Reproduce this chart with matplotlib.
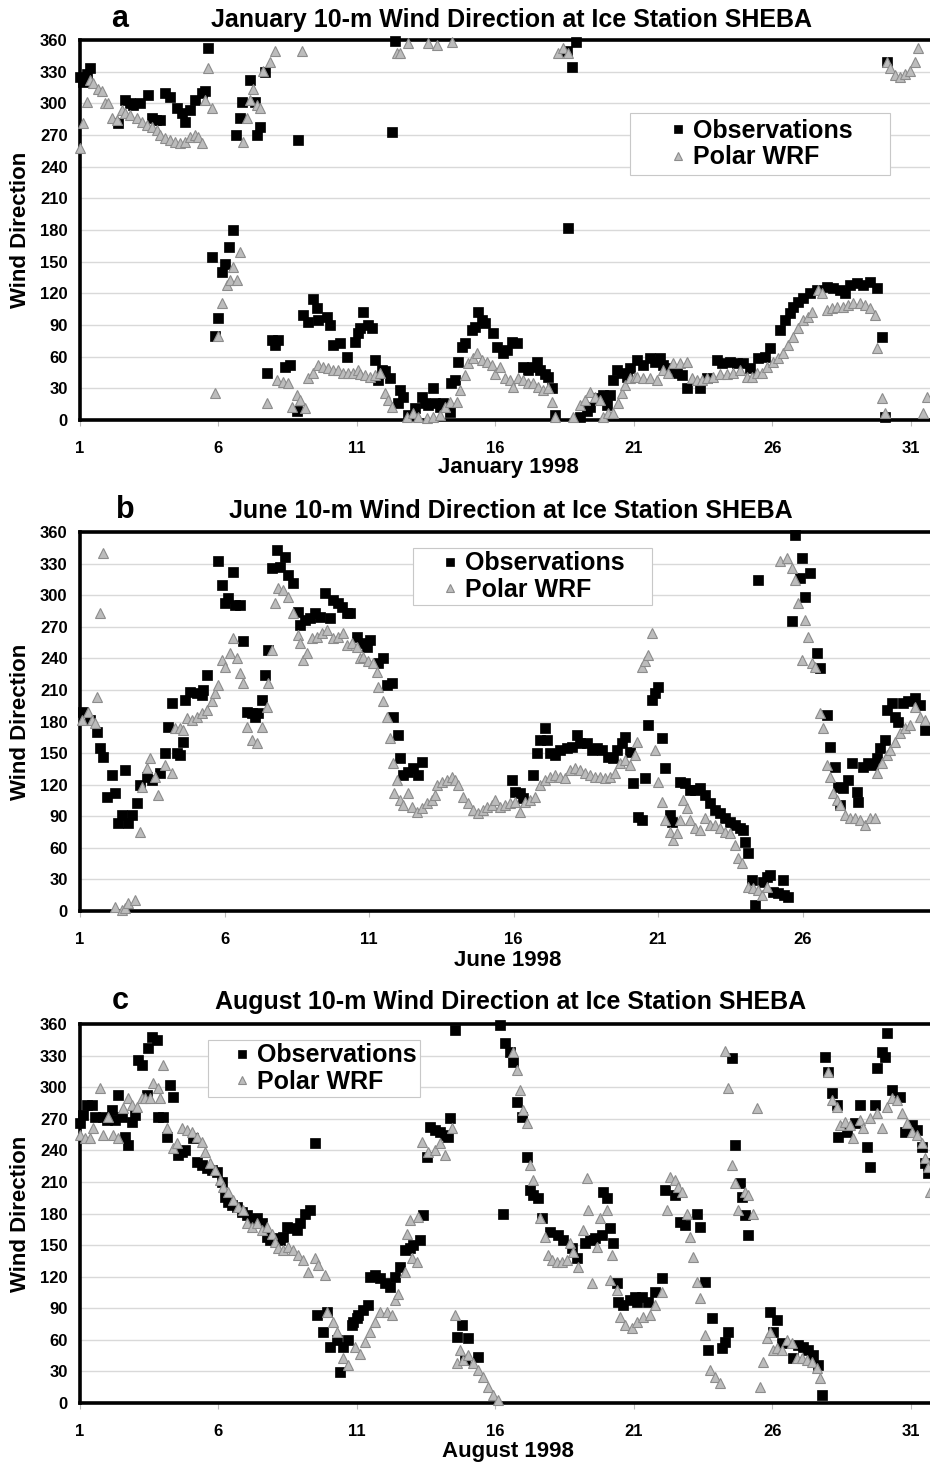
import matplotlib.pyplot as plt
from matplotlib.patches import Rectangle

plt.rcParams['font.family'] = ['Liberation Sans', 'DejaVu Sans']
plt.rcParams['font.weight'] = 'bold'

# (day of month, wind direction in degrees)
jan_obs = [
    (1.00, 325), (1.11, 320), (1.25, 328), (1.36, 333), (2.37, 281), (2.62, 303), (2.81, 300), (2.91, 298), (3.17, 300), (3.45, 308),
    (3.60, 286), (3.74, 284), (3.89, 284), (4.07, 310), (4.25, 306), (4.50, 296), (4.68, 291), (4.79, 282), (4.97, 294), (5.15, 303),
    (5.40, 310), (5.51, 312), (5.62, 352), (5.77, 154), (5.87, 80), (5.98, 97), (6.13, 140), (6.23, 148), (6.38, 164), (6.52, 180),
    (6.63, 270), (6.78, 286), (6.85, 301), (7.14, 322), (7.32, 301), (7.39, 270), (7.50, 278), (7.68, 330), (7.75, 45), (7.93, 76),
    (8.04, 71), (8.15, 76), (8.40, 50), (8.58, 52), (8.83, 9), (8.87, 265), (9.05, 99), (9.23, 93), (9.41, 115), (9.56, 106),
    (9.59, 95), (9.92, 98), (10.03, 90), (10.13, 71), (10.39, 73), (10.64, 60), (10.93, 74), (11.04, 82), (11.11, 87), (11.22, 102),
    (11.40, 90), (11.54, 87), (11.65, 57), (11.76, 38), (11.90, 47), (12.01, 46), (12.19, 40), (12.26, 273), (12.37, 359), (12.48, 16),
    (12.55, 28), (12.66, 22), (12.84, 5), (13.09, 11), (13.35, 22), (13.45, 16), (13.56, 14), (13.74, 30), (13.82, 16), (14.00, 12),
    (14.10, 16), (14.36, 8), (14.38, 35), (14.54, 38), (14.65, 55), (14.79, 69), (14.90, 73), (15.15, 85), (15.26, 88), (15.37, 102),
    (15.51, 95), (15.62, 92), (15.91, 82), (16.05, 69), (16.27, 63), (16.42, 66), (16.60, 74), (16.78, 73), (16.99, 50), (17.17, 47),
    (17.32, 50), (17.50, 55), (17.61, 47), (17.79, 44), (17.90, 41), (18.04, 30), (18.15, 5), (18.58, 350), (18.62, 182), (18.76, 334),
    (18.91, 358), (19.05, 3), (19.30, 9), (19.41, 12), (19.70, 21), (19.88, 24), (20.03, 14), (20.13, 24), (20.24, 38), (20.39, 47),
    (20.57, 45), (20.75, 41), (20.86, 49), (21.11, 57), (21.32, 52), (21.58, 59), (21.76, 55), (21.94, 59), (22.05, 52), (22.30, 49),
    (22.55, 45), (22.73, 43), (22.91, 30), (23.38, 30), (23.65, 40), (24.00, 57), (24.18, 54), (24.47, 55), (24.72, 54), (24.94, 54),
    (25.19, 49), (25.48, 59), (25.73, 60), (25.91, 68), (26.27, 85), (26.45, 95), (26.63, 101), (26.74, 107), (26.92, 112), (27.10, 116),
    (27.35, 120), (27.61, 123), (27.97, 126), (28.18, 125), (28.44, 123), (28.62, 120), (28.80, 128), (29.05, 130), (29.27, 128), (29.52, 131),
    (29.77, 125), (29.95, 79), (30.06, 3), (30.13, 339),
]
jan_wrf = [
    (1.00, 258), (1.11, 281), (1.25, 301), (1.36, 322), (1.47, 319), (1.65, 314), (1.79, 312), (1.90, 300), (2.01, 300), (2.16, 286),
    (2.34, 284), (2.52, 294), (2.62, 291), (2.81, 289), (3.06, 286), (3.24, 282), (3.42, 279), (3.60, 278), (3.78, 275), (3.89, 270),
    (4.07, 267), (4.25, 265), (4.43, 263), (4.61, 262), (4.79, 263), (4.97, 268), (5.15, 270), (5.26, 268), (5.40, 262), (5.51, 303),
    (5.62, 333), (5.77, 296), (5.87, 26), (5.98, 80), (6.13, 111), (6.31, 128), (6.42, 133), (6.52, 145), (6.67, 133), (6.78, 159),
    (6.88, 263), (7.03, 286), (7.14, 303), (7.25, 314), (7.39, 298), (7.50, 296), (7.61, 331), (7.75, 16), (7.86, 339), (8.04, 350),
    (8.11, 38), (8.33, 36), (8.51, 35), (8.65, 12), (8.83, 24), (8.94, 19), (9.01, 350), (9.12, 11), (9.23, 40), (9.41, 45),
    (9.59, 52), (9.77, 50), (9.95, 49), (10.13, 47), (10.31, 47), (10.49, 45), (10.68, 45), (10.86, 45), (11.04, 47), (11.11, 44),
    (11.29, 43), (11.47, 41), (11.65, 43), (11.83, 45), (12.01, 26), (12.12, 19), (12.26, 12), (12.44, 348), (12.55, 348), (12.81, 3),
    (12.84, 357), (13.02, 7), (13.20, 3), (13.53, 2), (13.55, 357), (13.74, 3), (13.89, 355), (14.00, 5), (14.18, 12), (14.36, 17),
    (14.43, 358), (14.61, 17), (14.72, 28), (14.90, 43), (15.01, 54), (15.19, 59), (15.33, 63), (15.51, 57), (15.69, 55), (15.87, 52),
    (15.98, 44), (16.16, 50), (16.34, 40), (16.52, 38), (16.63, 31), (16.81, 40), (16.99, 38), (17.17, 35), (17.35, 35), (17.53, 31),
    (17.71, 28), (17.90, 30), (18.04, 17), (18.15, 3), (18.26, 348), (18.44, 352), (18.62, 348), (18.80, 3), (19.05, 14), (19.23, 19),
    (19.41, 27), (19.59, 22), (19.77, 19), (19.88, 3), (20.06, 7), (20.24, 7), (20.42, 16), (20.57, 26), (20.68, 33), (20.86, 40),
    (21.04, 41), (21.11, 41), (21.32, 40), (21.58, 40), (21.83, 38), (22.05, 47), (22.23, 45), (22.41, 54), (22.66, 54), (22.91, 55),
    (23.09, 40), (23.27, 38), (23.45, 38), (23.64, 40), (23.85, 41), (24.10, 44), (24.36, 44), (24.57, 45), (24.83, 47), (25.08, 41),
    (25.26, 41), (25.44, 45), (25.62, 45), (25.80, 50), (26.02, 55), (26.20, 59), (26.38, 63), (26.56, 71), (26.74, 79), (26.92, 87),
    (27.10, 95), (27.28, 98), (27.43, 102), (27.64, 123), (27.79, 120), (27.97, 104), (28.15, 106), (28.33, 107), (28.55, 107), (28.73, 109),
    (28.91, 111), (29.16, 111), (29.34, 109), (29.52, 106), (29.70, 99), (29.77, 68), (29.95, 21), (30.06, 7), (30.13, 339), (30.24, 333),
    (30.42, 327), (30.60, 325), (30.78, 328), (30.96, 331), (31.14, 339), (31.25, 352), (31.43, 7), (31.58, 22),
]

jun_obs = [
    (1.10, 189), (1.35, 181), (1.59, 170), (1.69, 155), (1.80, 146), (1.93, 108), (2.11, 129), (2.21, 112), (2.31, 84), (2.45, 91),
    (2.56, 134), (2.66, 84), (2.80, 91), (2.97, 103), (3.08, 120), (3.32, 127), (3.49, 124), (3.77, 131), (3.94, 150), (4.04, 175),
    (4.18, 198), (4.36, 150), (4.46, 148), (4.56, 161), (4.63, 200), (4.81, 208), (5.05, 207), (5.22, 205), (5.26, 210), (5.39, 224),
    (5.78, 332), (5.91, 310), (6.02, 293), (6.12, 297), (6.29, 322), (6.36, 291), (6.54, 291), (6.64, 256), (6.78, 189), (6.95, 188),
    (7.06, 184), (7.16, 188), (7.30, 200), (7.40, 224), (7.51, 248), (7.64, 326), (7.82, 343), (7.92, 327), (8.09, 336), (8.20, 319),
    (8.37, 312), (8.54, 284), (8.61, 272), (8.79, 276), (8.96, 278), (9.13, 283), (9.30, 279), (9.48, 302), (9.65, 278), (9.75, 295),
    (9.93, 293), (10.07, 289), (10.24, 283), (10.34, 283), (10.58, 260), (10.76, 255), (10.93, 251), (11.03, 257), (11.31, 236), (11.48, 240),
    (11.62, 215), (11.80, 217), (11.83, 184), (12.00, 167), (12.07, 145), (12.18, 129), (12.35, 132), (12.52, 136), (12.70, 129), (12.83, 142),
    (15.95, 124), (16.05, 113), (16.22, 112), (16.33, 107), (16.67, 129), (16.81, 150), (16.92, 162), (17.09, 174), (17.16, 162), (17.26, 150),
    (17.44, 148), (17.61, 153), (17.85, 155), (18.02, 156), (18.20, 167), (18.30, 160), (18.54, 160), (18.72, 153), (18.89, 155), (19.06, 153),
    (19.27, 146), (19.44, 145), (19.58, 153), (19.75, 160), (19.86, 165), (20.03, 151), (20.13, 122), (20.31, 89), (20.45, 86), (20.55, 126),
    (20.65, 177), (20.79, 200), (20.90, 207), (21.00, 213), (21.14, 164), (21.24, 136), (21.42, 91), (21.48, 85), (21.76, 123), (21.93, 122),
    (22.11, 115), (22.28, 115), (22.45, 117), (22.63, 110), (22.80, 103), (22.97, 96), (23.15, 93), (23.32, 88), (23.49, 85), (23.66, 82),
    (23.84, 79), (23.94, 77), (24.01, 66), (24.11, 55), (24.25, 29), (24.36, 6), (24.46, 314), (24.63, 28), (24.77, 32), (24.88, 34),
    (24.98, 18), (25.15, 17), (25.33, 29), (25.35, 15), (25.50, 13), (25.64, 275), (25.74, 357), (25.91, 316), (25.98, 335), (26.09, 298),
    (26.26, 321), (26.50, 245), (26.61, 231), (26.85, 186), (26.95, 156), (27.12, 137), (27.23, 118), (27.30, 101), (27.40, 117), (27.57, 124),
    (27.71, 141), (27.89, 113), (27.92, 104), (28.09, 137), (28.27, 141), (28.44, 139), (28.58, 145), (28.68, 155), (28.85, 162), (28.92, 191),
    (29.10, 198), (29.20, 184), (29.30, 180), (29.48, 198), (29.65, 199), (29.89, 202), (30.07, 196), (30.24, 172),
]
jun_wrf = [
    (1.07, 181), (1.28, 189), (1.42, 181), (1.52, 179), (1.59, 203), (1.69, 283), (1.80, 340), (2.21, 4), (2.45, 1), (2.56, 3),
    (2.66, 8), (2.90, 10), (3.08, 75), (3.15, 118), (3.32, 136), (3.42, 145), (3.60, 127), (3.70, 110), (3.94, 139), (4.18, 131),
    (4.29, 174), (4.46, 174), (4.56, 172), (4.70, 183), (4.88, 181), (5.05, 184), (5.22, 188), (5.39, 191), (5.57, 199), (5.67, 207),
    (5.78, 215), (5.91, 238), (6.02, 232), (6.19, 245), (6.29, 259), (6.43, 240), (6.54, 226), (6.64, 217), (6.78, 175), (6.95, 162),
    (7.12, 160), (7.30, 175), (7.47, 194), (7.51, 217), (7.64, 248), (7.75, 293), (7.85, 307), (8.02, 305), (8.20, 298), (8.37, 283),
    (8.54, 262), (8.61, 255), (8.72, 238), (8.85, 245), (9.03, 259), (9.20, 260), (9.37, 264), (9.55, 267), (9.75, 259), (9.93, 260),
    (10.10, 264), (10.24, 253), (10.41, 255), (10.58, 251), (10.69, 240), (10.79, 241), (10.97, 237), (11.14, 236), (11.28, 227), (11.31, 213),
    (11.48, 199), (11.62, 184), (11.73, 164), (11.83, 141), (11.86, 112), (11.97, 124), (12.07, 105), (12.18, 101), (12.35, 112), (12.49, 99),
    (12.66, 94), (12.83, 98), (13.01, 103), (13.18, 105), (13.28, 110), (13.35, 120), (13.53, 123), (13.70, 124), (13.87, 127), (13.98, 124),
    (14.08, 120), (14.25, 108), (14.43, 103), (14.60, 96), (14.77, 93), (14.94, 96), (15.08, 99), (15.26, 101), (15.36, 105), (15.53, 99),
    (15.71, 101), (15.88, 103), (16.05, 104), (16.22, 94), (16.40, 104), (16.57, 105), (16.74, 108), (16.92, 120), (17.09, 124), (17.26, 127),
    (17.44, 129), (17.61, 127), (17.78, 126), (17.96, 134), (18.13, 136), (18.30, 134), (18.47, 131), (18.65, 129), (18.82, 127), (18.99, 127),
    (19.17, 126), (19.34, 127), (19.51, 131), (19.69, 141), (19.86, 143), (20.03, 139), (20.20, 148), (20.27, 161), (20.45, 232), (20.55, 237),
    (20.65, 243), (20.79, 264), (20.90, 153), (21.00, 123), (21.14, 104), (21.24, 86), (21.42, 75), (21.52, 67), (21.66, 74), (21.76, 86),
    (21.87, 105), (22.00, 98), (22.11, 86), (22.28, 79), (22.45, 77), (22.63, 88), (22.80, 82), (22.97, 82), (23.15, 79), (23.32, 75),
    (23.49, 74), (23.66, 63), (23.77, 50), (23.91, 46), (24.11, 23), (24.29, 22), (24.46, 20), (24.60, 15), (24.77, 23), (25.22, 332),
    (25.46, 335), (25.64, 326), (25.74, 314), (25.84, 293), (25.98, 238), (26.09, 276), (26.19, 260), (26.33, 236), (26.43, 232), (26.61, 188),
    (26.71, 174), (26.85, 139), (26.95, 127), (27.06, 112), (27.19, 105), (27.30, 101), (27.47, 91), (27.64, 88), (27.82, 88), (27.99, 86),
    (28.16, 82), (28.34, 88), (28.51, 88), (28.58, 131), (28.75, 141), (28.92, 148), (29.03, 153), (29.20, 161), (29.37, 169), (29.55, 174),
    (29.72, 177), (29.89, 194), (30.07, 184), (30.24, 181),
]

aug_obs = [
    (1.00, 266), (1.11, 274), (1.25, 283), (1.43, 283), (1.54, 272), (1.83, 272), (1.97, 269), (2.16, 278), (2.26, 269), (2.37, 293),
    (2.52, 272), (2.62, 253), (2.73, 245), (2.88, 267), (2.99, 274), (3.09, 326), (3.24, 321), (3.42, 293), (3.45, 337), (3.60, 348),
    (3.78, 345), (3.82, 272), (4.00, 272), (4.14, 253), (4.25, 302), (4.36, 291), (4.54, 236), (4.68, 238), (4.79, 240), (5.08, 252),
    (5.22, 229), (5.40, 226), (5.58, 223), (5.77, 221), (5.95, 219), (6.13, 210), (6.23, 196), (6.34, 191), (6.49, 188), (6.67, 186),
    (6.85, 181), (7.03, 179), (7.21, 174), (7.39, 176), (7.57, 171), (7.75, 158), (7.86, 155), (8.04, 157), (8.22, 155), (8.33, 158),
    (8.47, 167), (8.65, 166), (8.83, 164), (8.94, 171), (9.12, 180), (9.30, 183), (9.48, 247), (9.56, 84), (9.77, 67), (9.92, 86),
    (10.03, 53), (10.28, 60), (10.39, 29), (10.49, 53), (10.68, 60), (10.82, 74), (10.86, 77), (11.00, 81), (11.04, 84), (11.22, 88),
    (11.40, 93), (11.47, 120), (11.65, 122), (11.83, 119), (12.01, 114), (12.19, 110), (12.37, 120), (12.55, 129), (12.73, 145), (12.91, 147),
    (13.02, 150), (13.27, 155), (13.38, 179), (13.53, 234), (13.64, 262), (13.82, 259), (14.00, 257), (14.18, 255), (14.29, 253), (14.36, 271),
    (14.54, 354), (14.61, 63), (14.79, 74), (14.90, 41), (15.01, 62), (15.37, 44), (16.16, 359), (16.27, 180), (16.34, 342), (16.52, 333),
    (16.63, 324), (16.78, 286), (16.96, 272), (17.14, 234), (17.25, 202), (17.35, 198), (17.53, 195), (17.68, 176), (17.97, 162), (18.26, 160),
    (18.44, 155), (18.76, 147), (18.94, 138), (19.23, 152), (19.41, 155), (19.59, 157), (19.84, 160), (19.88, 200), (20.03, 195), (20.13, 166),
    (20.24, 152), (20.39, 114), (20.42, 96), (20.60, 93), (20.86, 98), (21.04, 101), (21.11, 96), (21.29, 101), (21.51, 96), (21.76, 105),
    (22.01, 119), (22.12, 202), (22.48, 198), (22.66, 172), (22.84, 169), (23.27, 180), (23.38, 167), (23.56, 115), (23.82, 81), (23.67, 50),
    (24.18, 52), (24.29, 58), (24.39, 67), (24.54, 328), (24.65, 245), (24.83, 209), (24.90, 196), (25.01, 179), (25.12, 160), (25.91, 86),
    (26.02, 67), (26.16, 79), (26.34, 57), (26.74, 43), (26.92, 55), (27.10, 53), (27.28, 50), (27.46, 46), (27.64, 36), (27.79, 8),
    (27.90, 329), (28.00, 314), (28.15, 294), (28.33, 283), (28.36, 253), (28.69, 257), (28.98, 266), (29.16, 283), (29.41, 243), (29.52, 224),
    (29.70, 283), (29.77, 318), (29.95, 333), (30.06, 329), (30.13, 351), (30.31, 297), (30.60, 291), (30.78, 257), (31.04, 264), (31.22, 259),
    (31.40, 243), (31.51, 228), (31.61, 218),
]
aug_wrf = [
    (1.00, 255), (1.18, 252), (1.36, 252), (1.47, 261), (1.72, 299), (1.83, 255), (2.01, 272), (2.19, 255), (2.37, 252), (2.55, 280),
    (2.73, 290), (2.88, 283), (3.06, 281), (3.24, 290), (3.35, 290), (3.53, 290), (3.64, 304), (3.82, 299), (3.89, 290), (4.00, 321),
    (4.14, 261), (4.36, 242), (4.50, 247), (4.68, 261), (4.86, 259), (5.04, 257), (5.22, 253), (5.40, 248), (5.51, 238), (5.69, 228),
    (5.87, 221), (6.05, 212), (6.16, 205), (6.34, 200), (6.52, 193), (6.70, 186), (6.88, 183), (7.03, 171), (7.21, 167), (7.39, 171),
    (7.57, 164), (7.75, 167), (7.93, 161), (8.04, 153), (8.15, 147), (8.33, 145), (8.51, 148), (8.69, 145), (8.87, 141), (9.05, 136),
    (9.23, 124), (9.48, 138), (9.59, 131), (9.84, 122), (9.92, 86), (10.13, 77), (10.28, 67), (10.49, 43), (10.68, 36), (10.93, 53),
    (11.11, 47), (11.29, 58), (11.47, 67), (11.65, 77), (11.83, 86), (12.08, 86), (12.26, 84), (12.37, 98), (12.48, 104), (12.73, 124),
    (12.81, 161), (12.91, 174), (12.99, 138), (13.17, 134), (13.20, 177), (13.35, 248), (13.56, 238), (13.82, 240), (14.00, 247), (14.18, 236),
    (14.43, 261), (14.54, 84), (14.61, 38), (14.72, 50), (14.83, 41), (15.01, 46), (15.19, 38), (15.37, 31), (15.55, 25), (15.73, 15),
    (15.91, 8), (16.09, 3), (16.63, 333), (16.78, 316), (16.88, 297), (16.99, 278), (17.14, 266), (17.25, 226), (17.35, 212), (17.61, 176),
    (17.79, 158), (17.90, 141), (18.04, 136), (18.22, 134), (18.40, 134), (18.58, 136), (18.69, 152), (18.80, 143), (18.98, 129), (19.16, 164),
    (19.30, 214), (19.34, 183), (19.48, 114), (19.66, 148), (19.77, 176), (20.03, 183), (20.13, 117), (20.21, 141), (20.39, 107), (20.49, 82),
    (20.68, 74), (20.93, 71), (21.11, 77), (21.32, 82), (21.58, 84), (21.76, 93), (22.01, 105), (22.19, 183), (22.30, 215), (22.48, 212),
    (22.59, 205), (22.73, 200), (22.91, 180), (23.02, 158), (23.13, 139), (23.27, 115), (23.38, 100), (23.56, 65), (23.74, 31), (23.92, 25),
    (24.10, 19), (24.29, 334), (24.39, 299), (24.54, 226), (24.65, 209), (24.75, 183), (25.01, 200), (25.12, 198), (25.30, 180), (25.44, 280),
    (25.55, 15), (25.66, 39), (25.80, 62), (25.91, 67), (26.02, 50), (26.16, 52), (26.34, 50), (26.52, 60), (26.70, 57), (26.88, 43),
    (27.06, 43), (27.25, 41), (27.43, 39), (27.61, 33), (27.71, 24), (28.00, 314), (28.15, 288), (28.33, 281), (28.44, 264), (28.62, 267),
    (28.80, 264), (28.91, 252), (29.16, 269), (29.27, 261), (29.52, 271), (29.77, 275), (29.95, 261), (30.13, 281), (30.31, 290), (30.49, 288),
    (30.68, 275), (30.86, 266), (31.04, 257), (31.22, 255), (31.40, 247), (31.51, 233), (31.61, 224), (31.69, 200),
]

# layout in figure pixels (box = x0, y0, x1, y1 of the legend frame; text_x = where labels start)
panels = [
    dict(letter='a', title='January 10-m Wind Direction at Ice Station SHEBA', xlabel='January 1998',
         obs=jan_obs, wrf=jan_wrf, top=40, bot=420, xmax=31.69, ticks=[1, 6, 11, 16, 21, 26, 31],
         box=(630, 113, 890, 175), text_x=693, title_y=20, letter_x=120, xlabel_y=468),
    dict(letter='b', title='June 10-m Wind Direction at Ice Station SHEBA', xlabel='June 1998',
         obs=jun_obs, wrf=jun_wrf, top=532, bot=911, xmax=30.41, ticks=[1, 6, 11, 16, 21, 26],
         box=(413, 548, 652, 605), text_x=465, title_y=511, letter_x=125, xlabel_y=960),
    dict(letter='c', title='August 10-m Wind Direction at Ice Station SHEBA', xlabel='August 1998',
         obs=aug_obs, wrf=aug_wrf, top=1024, bot=1403, xmax=31.69, ticks=[1, 6, 11, 16, 21, 26, 31],
         box=(208, 1040, 420, 1097), text_x=257, title_y=1002, letter_x=120, xlabel_y=1452),
]

W, H = 930, 1466
fig = plt.figure(figsize=(W / 100, H / 100), dpi=100)
left = 80
leg_fs = 18

for p in panels:
    ax = fig.add_axes([left / W, 1 - p['bot'] / H, 1 - left / W, (p['bot'] - p['top']) / H])
    od, ov = zip(*p['obs'])
    wd, wv = zip(*p['wrf'])
    ax.plot(od, ov, ls='none', marker='s', ms=6.8, mfc='black', mec='black', mew=0.5,
            label='Observations', clip_on=False, zorder=3)
    ax.plot(wd, wv, ls='none', marker='^', ms=7, mfc='#bcbcbc', mec='#8c8c8c', mew=0.8,
            label='Polar WRF', clip_on=False, zorder=4)

    ax.set_xlim(1, p['xmax'])
    ax.set_ylim(0, 360)
    ax.set_yticks(range(0, 361, 30))
    ax.set_xticks(p['ticks'])
    ax.grid(axis='y', color='#d9d9d9', lw=1.0)
    ax.set_axisbelow(True)
    for s in ['top', 'bottom', 'left']:
        ax.spines[s].set_linewidth(2.6)
        ax.spines[s].set_zorder(2)
    ax.spines['right'].set_visible(False)
    ax.tick_params(axis='y', length=0, pad=9, labelsize=12)
    ax.tick_params(axis='x', length=4, color='#bbbbbb', pad=11, labelsize=12)
    for lab in ax.get_xticklabels() + ax.get_yticklabels():
        lab.set_fontweight('bold')

    # legend frame drawn separately so its padding matches the original
    x0, y0, x1, y1 = p['box']
    ax.add_patch(Rectangle((x0 / W, 1 - y1 / H), (x1 - x0) / W, (y1 - y0) / H,
                           transform=fig.transFigure, fc='white', ec='#c8c8c8', lw=0.8,
                           zorder=5, clip_on=False))
    handle_px = 0.6 * leg_fs * 100 / 72
    pad_px = 0.3 * leg_fs * 100 / 72
    leg_left = p['text_x'] - handle_px - pad_px
    leg = ax.legend(loc='center left', bbox_to_anchor=(leg_left / W, 1 - (y0 + y1) / 2 / H),
                    bbox_transform=fig.transFigure, fontsize=leg_fs, frameon=False,
                    borderpad=0, labelspacing=0.1, handlelength=0.6, handletextpad=0.3,
                    markerscale=0.75, borderaxespad=0)
    leg.set_zorder(6)
    for t in leg.get_texts():
        t.set_fontweight('bold')

    mid = (p['top'] + p['bot']) / 2
    fig.text(511 / W, 1 - p['title_y'] / H, p['title'], ha='center', va='center',
             fontsize=18, fontweight='bold')
    fig.text(p['letter_x'] / W, 1 - (p['title_y'] - 1) / H, p['letter'], ha='center', va='center',
             fontsize=22, fontweight='bold')
    fig.text(508 / W, 1 - p['xlabel_y'] / H, p['xlabel'], ha='center', va='center',
             fontsize=16, fontweight='bold')
    fig.text(21 / W, 1 - mid / H, 'Wind Direction', ha='center', va='center', rotation=90,
             fontsize=16, fontweight='bold')

fig.savefig('out.png', dpi=100)
